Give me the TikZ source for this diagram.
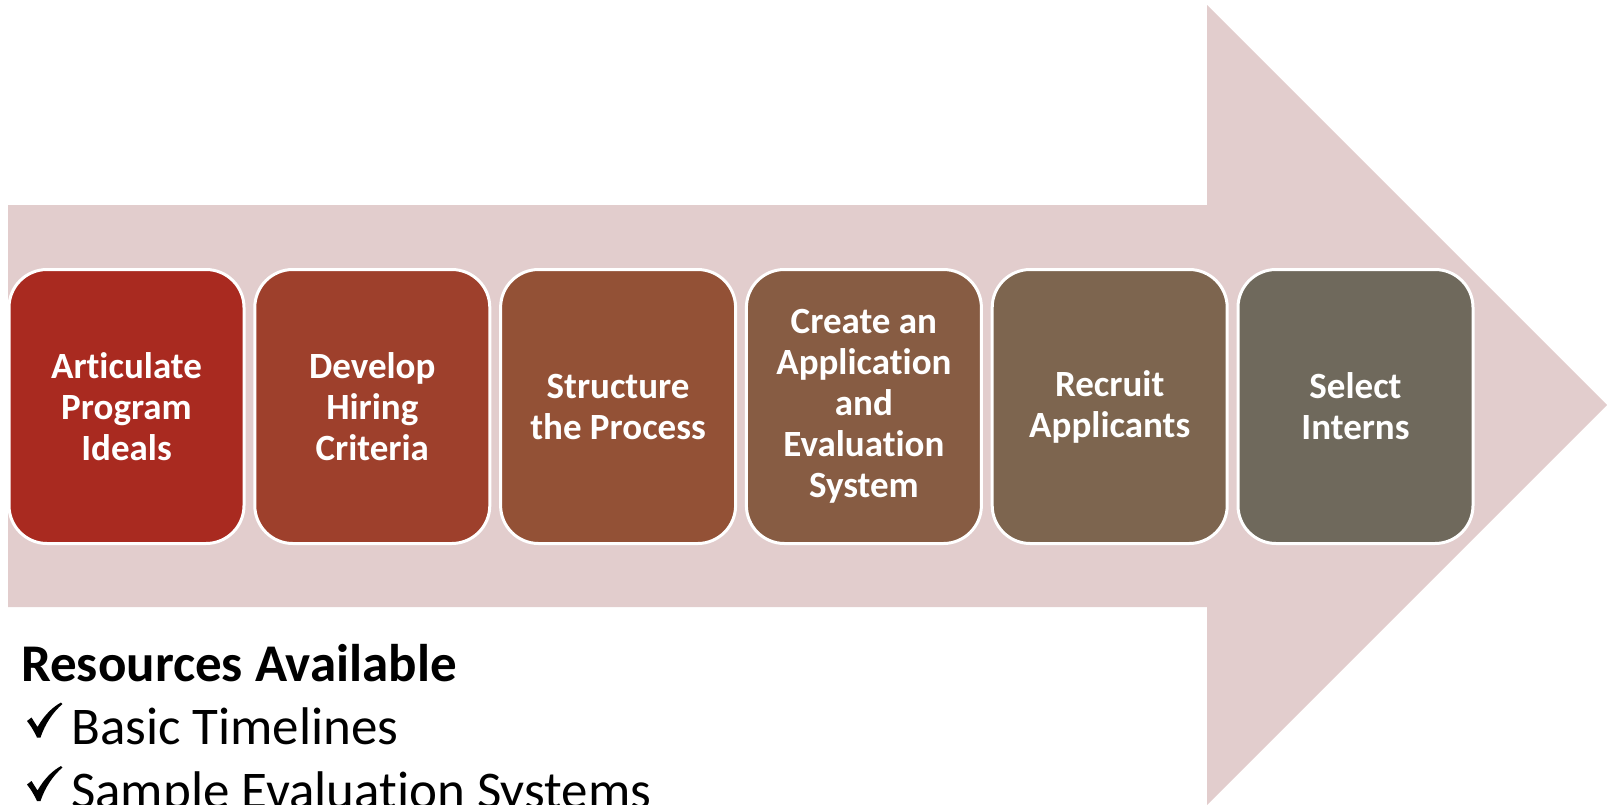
\documentclass[tikz,border=0pt]{standalone}
\usepackage{fontspec}
\setmainfont[Ligatures=NoCommon]{Carlito}
\definecolor{arrowbg}{HTML}{E2CDCD}
\definecolor{cA}{HTML}{A92A20}
\definecolor{cB}{HTML}{9E402C}
\definecolor{cC}{HTML}{935136}
\definecolor{cD}{HTML}{875C43}
\definecolor{cE}{HTML}{7D654F}
\definecolor{cF}{HTML}{6F695C}
\tikzset{
  stepbox/.style={draw=white, line width=3pt, rounded corners=38pt,
    minimum width=235pt, minimum height=274pt, inner sep=0pt,
    text=white, align=center,
    font=\fontsize{37}{41}\selectfont\bfseries},
  listtext/.style={anchor=base west, inner sep=0pt, text=black,
    font=\fontsize{53}{63}\selectfont},
  checkshape/.style={fill=black}
}
\begin{document}
\begin{tikzpicture}[x=1pt,y=-1pt]
\useasboundingbox (0,0) rectangle (1607,804);
% big background arrow
\fill[arrowbg] (8,205) -- (1207,205) -- (1207,5) -- (1607,405)
  -- (1207,805) -- (1207,607) -- (8,607) -- cycle;
% steps
\node[stepbox, fill=cA] (s1) at (126.5,406.5) {Articulate\\Program\\Ideals};
\node[stepbox, fill=cB] (s2) at (372.3,406.5) {Develop\\Hiring\\Criteria};
\node[stepbox, fill=cC] (s3) at (618.1,406.5) {Structure\\the Process};
\node[stepbox, fill=cD] (s4) at (863.9,406.5) {Create an\\Application\\and\\Evaluation\\System};
\node[stepbox, fill=cE] (s5) at (1109.7,406.5) {Recruit\\Applicants};
\node[stepbox, fill=cF] (s6) at (1355.5,406.5) {Select\\Interns};
% resources
\node[listtext, font=\fontsize{53}{63}\selectfont\bfseries] (res) at (21,681.5) {Resources Available};
\foreach \dy in {0,63.5}{
  \fill[checkshape, yshift=-\dy pt]
    (27,721) .. controls (29,719) .. (31.5,717.5) -- (37.5,727)
    .. controls (45,714) and (53,707) .. (61,702.5) -- (62.5,704)
    .. controls (53,712) and (45,724) .. (40.5,737.5) -- (37,737.5)
    .. controls (34,731) and (31,726) .. (27,721) -- cycle;
}
\node[listtext] (r1) at (71,744.5) {Basic Timelines};
\node[listtext] (r2) at (71,808) {Sample Evaluation Systems};
\end{tikzpicture}
\end{document}
